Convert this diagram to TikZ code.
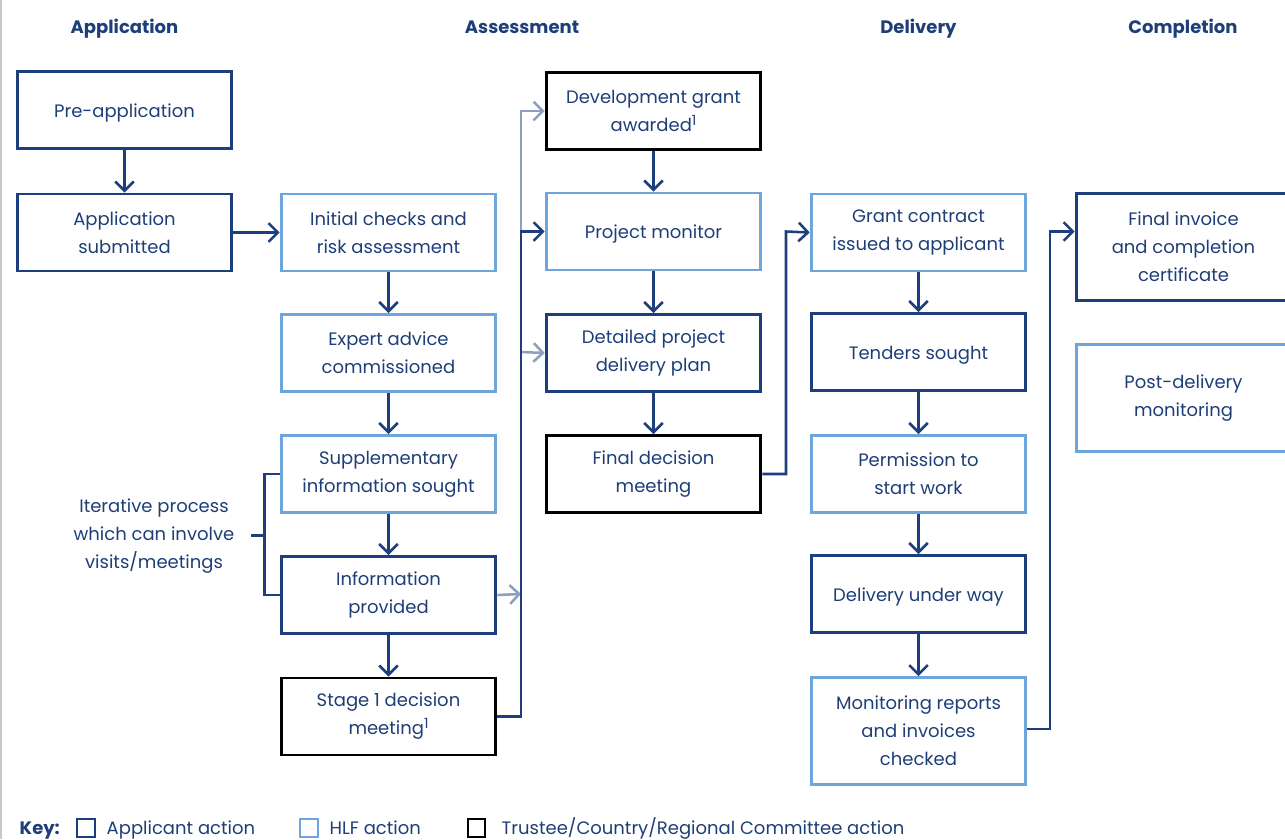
\documentclass[tikz,border=0pt]{standalone}
\usepackage{fontspec}
\setmainfont{Poppins}
\usetikzlibrary{arrows.meta}
\definecolor{navy}{HTML}{1D3F7E}
\definecolor{lblue}{HTML}{6EA6DC}
\definecolor{txt}{HTML}{1E3E78}
\definecolor{gblue}{HTML}{8C9FC0}
\definecolor{edge}{HTML}{C8C8C8}
\newcommand{\fnmark}{\raisebox{4.5pt}{\fontsize{10.5}{10.5}\selectfont 1}}
\begin{document}
\begin{tikzpicture}[x=0.75pt,y=-0.75pt,
  every node/.style={text=txt, font=\fontsize{13.5}{21}\selectfont},
  box/.style={draw, line width=2.2pt, minimum width=161pt, minimum height=57.75pt, align=center, inner sep=2pt},
  appl/.style={box, draw=navy},
  hlf/.style={box, draw=lblue},
  comm/.style={box, draw=black},
  tall/.style={minimum height=80pt},
  one/.style={text height=12pt, text depth=1pt},
  arr/.style={draw=navy, line width=1.9pt, -{Straight Barb[length=7pt,width=14pt]}},
  garr/.style={arr, draw=gblue},
  brk/.style={draw=navy, line width=1.9pt},
  hdr/.style={font=\bfseries\fontsize{13.5}{16}\selectfont, anchor=base},
  keybox/.style={draw, line width=1.6pt, minimum width=13pt, minimum height=13pt, inner sep=0pt}]
\useasboundingbox (0,0) rectangle (1285,839);
\clip (0,0) rectangle (1285,839);
\draw[edge, line width=1.5pt] (1,0) -- (1,839);

% headers
\node[hdr] (h1) at (124.5,33) {Application};
\node[hdr] (h2) at (522,33) {Assessment};
\node[hdr] (h3) at (918.5,33) {Delivery};
\node[hdr] (h4) at (1183,33) {Completion};

% column 1
\node[appl, one] (pre) at (124.5,110) {Pre-application};
\node[appl] (sub) at (124.5,232.5) {Application\\submitted};
% column 2
\node[hlf] (init) at (388.5,232.5) {Initial checks and\\risk assessment};
\node[hlf] (exp) at (388.5,353) {Expert advice\\commissioned};
\node[hlf] (supp) at (388.5,474) {Supplementary\\information sought};
\node[appl] (info) at (388.5,595) {Information\\provided};
\node[comm] (st1) at (388.5,716.5) {Stage 1 decision\\meeting\fnmark};
% column 3
\node[comm] (dga) at (653.5,111) {Development grant\\awarded\fnmark};
\node[hlf, one] (pm) at (653.5,231.5) {Project monitor};
\node[appl] (dpdp) at (653.5,353) {Detailed project\\delivery plan};
\node[comm] (fdm) at (653.5,474) {Final decision\\meeting};
% column 4
\node[hlf] (gc) at (918.5,232.5) {Grant contract\\issued to applicant};
\node[appl, one] (ts) at (918.5,352) {Tenders sought};
\node[hlf] (perm) at (918.5,474) {Permission to\\start work};
\node[appl, one] (duw) at (918.5,594) {Delivery under way};
\node[hlf, tall] (mon) at (918.5,731) {Monitoring reports\\and invoices\\checked};
% column 5
\node[appl, tall] (fi) at (1183.5,247) {Final invoice\\and completion\\certificate};
\node[hlf, tall] (pdm) at (1183.5,398) {Post-delivery\\monitoring};

% iterative label
\node[align=center] (iter) at (154,536) {Iterative process\\which can involve\\visits/meetings};

% junction coordinates
\coordinate (j1) at (521,231.5);
\coordinate (j2) at (521,352);
\coordinate (j3) at (521,594);
\coordinate (j4) at (786,231.5);
\coordinate (j5) at (1050,231.5);
\coordinate (bm) at (265.5,535.5);

% connectors
\draw[arr] (pre) -- (sub);
\draw[arr] (sub) -- (init);
\draw[arr] (init) -- (exp);
\draw[arr] (exp) -- (supp);
\draw[arr] (supp) -- (info);
\draw[arr] (info) -- (st1);
\draw[garr] (j1) |- (dga.west);
\draw[garr] (j2) -- (dpdp.west);
\draw[garr] (info.east) -- (j3);
\draw[arr] (st1.east) -| (j1) -- (pm.west);
\draw[arr] (dga) -- (pm);
\draw[arr] (pm) -- (dpdp);
\draw[arr] (dpdp) -- (fdm);
\draw[arr] (fdm.east) -| (j4) -- (gc.west);
\draw[arr] (gc) -- (ts);
\draw[arr] (ts) -- (perm);
\draw[arr] (perm) -- (duw);
\draw[arr] (duw) -- (mon);
\draw[arr] ([yshift=1.5pt]mon.east) -| (j5) -- (j5 -| fi.west);

% bracket
\draw[brk] (supp.west) -- ++(-15,0) |- (info.west);
\draw[brk] (bm) -- ++(-15,0);

% key
\node[font=\bfseries\fontsize{13.5}{16}\selectfont, anchor=base west] (key) at (15,834) {Key:};
\node[keybox, draw=navy] (k1) at (86,828) {};
\node[anchor=base west] (k1t) at (102,834) {Applicant action};
\node[keybox, draw=lblue] (k2) at (309,828) {};
\node[anchor=base west] (k2t) at (325,834) {HLF action};
\node[keybox, draw=black] (k3) at (476.5,828) {};
\node[anchor=base west] (k3t) at (497,834) {Trustee/Country/Regional Committee action};
\end{tikzpicture}
\end{document}
